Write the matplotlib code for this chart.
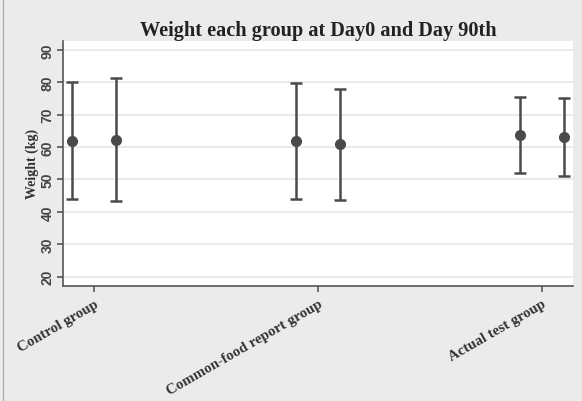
import matplotlib.pyplot as plt
from matplotlib.lines import Line2D

groups = ['Control group', 'Common-food report group', 'Actual test group']
day0_mean = [62.0, 62.0, 63.7]
day0_low = [44.0, 44.0, 52.1]
day0_high = [80.2, 79.8, 75.4]
day90_mean = [62.2, 60.8, 63.1]
day90_low = [43.2, 43.7, 50.9]
day90_high = [81.2, 77.8, 75.1]

bg = '#ebebeb'
dark = '#4a4a4a'

fig = plt.figure(figsize=(5.82, 4.02), dpi=100, facecolor=bg)
ax = fig.add_axes([0.1077, 0.2868, 0.8773, 0.6087])
ax.set_facecolor('white')

pos = [1, 2, 3]
for i, x in enumerate(pos):
    for xo, m, lo, hi in [(x - 0.1, day0_mean[i], day0_low[i], day0_high[i]),
                          (x + 0.1, day90_mean[i], day90_low[i], day90_high[i])]:
        ax.errorbar([xo], [m], yerr=[[m - lo], [hi - m]], fmt='o', color=dark,
                    ms=7, elinewidth=1.8, capsize=4, capthick=1.8, zorder=3)

ax.set_xlim(0.86, 3.14)
ax.set_ylim(17.2, 92.7)
ax.set_yticks(range(20, 100, 10))
ax.set_yticklabels([str(v) for v in range(20, 100, 10)], rotation=90, va='center',
                   fontsize=10, fontweight='bold', color='#444444', family='Liberation Sans')
ax.set_xticks(pos)
ax.set_xticklabels(groups, rotation=30, ha='right', rotation_mode='anchor',
                   fontsize=10.7, fontweight='bold', family='Liberation Serif', color='#333333')
ax.grid(axis='y', color='#e6e6e6', lw=1.2)
ax.set_axisbelow(True)
for s in ['top', 'right']:
    ax.spines[s].set_visible(False)
for s in ['left', 'bottom']:
    ax.spines[s].set_color('#555555')
    ax.spines[s].set_linewidth(1.2)
ax.tick_params(axis='both', colors='#555555', length=4, width=1.2)
ax.tick_params(axis='y', pad=2)
ax.tick_params(axis='x', pad=4)
for t in ax.get_yticklabels():
    t.set_color('#444444')
for t in ax.get_xticklabels():
    t.set_color('#333333')

ax.set_ylabel('Weight (kg)', fontsize=10, fontweight='bold', family='Liberation Serif',
              color='#333333', labelpad=1)
ax.set_title('Weight each group at Day0 and Day 90th', fontsize=14.6, fontweight='bold',
             family='Liberation Serif', color='#222222', pad=4)

fig.add_artist(Line2D([0.006, 0.006], [0.0, 1.0], color='#b0b0b0', lw=1))

fig.savefig('out.png', dpi=100, facecolor=bg)
